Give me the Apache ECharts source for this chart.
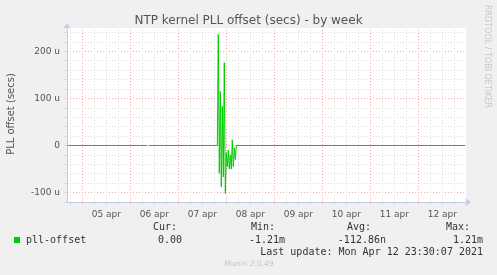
<!DOCTYPE html>
<html><head><meta charset="utf-8">
<script src="https://cdn.jsdelivr.net/npm/echarts@6/dist/echarts.min.js"></script>
<style>html,body{margin:0;padding:0;background:#f0f0f0;}#c{width:497px;height:275px;}</style>
</head><body><div id="c"></div>
<script>
// Hours since 05 apr 00:00 (30-minute samples), values in microseconds
const hours = [-7.5, 32.5, 33, 33.5, 67.5, 68, 68.5, 69, 69.5, 70, 70.5, 71, 71.5, 72, 72.5, 73, 73.5, 74, 74.5, 75, 75.5, 76, 76.5, 77, 191.5];
const pllOffset = [0, 0, null, 0, 0, 236, -59, 115, -88, 83, -67, 176, -102, -15, -45, -10, -50, -20, -50, 12, -45, -5, -30, 0, 0];
const dayLabels = ['05 apr', '06 apr', '07 apr', '08 apr', '09 apr', '10 apr', '11 apr', '12 apr'];
const dayNoon = [12, 36, 60, 84, 108, 132, 156, 180];
const vGrid = [-6, 0, 6, 12, 18, 24, 30, 36, 42, 48, 54, 60, 66, 72, 78, 84, 90, 96, 102, 108, 114, 120, 126, 132, 138, 144, 150, 156, 162, 168, 174, 180, 186];
const legendHeads = ['Cur:', 'Min:', 'Avg:', 'Max:'];
const legendValues = ['0.00', '-1.21m', '-112.86n', '1.21m'];

const MINOR = '#dcdcdc', MAJOR = '#f0a8a8', AXIS = '#c4cbe8';
const chart = echarts.init(document.getElementById('c'), null, {renderer: 'canvas'});
const seriesData = hours.map((h, i) => [h, pllOffset[i]]);
const headX = [177, 275, 371, 470];
const valX = [182, 285, 386, 483];
const graphics = [
  {type: 'text', x: 11, y: 114, rotation: Math.PI / 2, style: {text: 'PLL offset (secs)', fill: '#555', font: '10px "DejaVu Sans"', align: 'center', verticalAlign: 'middle'}},
  {type: 'text', x: 487, y: 5, rotation: -Math.PI / 2, style: {text: 'RRDTOOL / TOBI OETIKER', fill: '#c8c8c8', font: '8px "DejaVu Sans"', align: 'left', verticalAlign: 'middle'}},
  {type: 'rect', shape: {x: 14, y: 237, width: 6, height: 6}, style: {fill: '#00cc00'}},
  {type: 'text', x: 26, y: 240, style: {text: 'pll-offset', fill: '#333', font: '10px "DejaVu Sans Mono"', align: 'left', verticalAlign: 'middle'}},
  {type: 'text', x: 483, y: 252, style: {text: 'Last update: Mon Apr 12 23:30:07 2021', fill: '#333', font: '10px "DejaVu Sans Mono"', align: 'right', verticalAlign: 'middle'}},
  {type: 'text', x: 249, y: 264, style: {text: 'Munin 2.0.49', fill: '#c4c4c4', font: '7.5px "DejaVu Sans"', align: 'center', verticalAlign: 'middle'}}
];
legendHeads.forEach((t, i) => graphics.push({type: 'text', x: headX[i], y: 227, style: {text: t, fill: '#333', font: '10px "DejaVu Sans Mono"', align: 'right', verticalAlign: 'middle'}}));
legendValues.forEach((t, i) => graphics.push({type: 'text', x: valX[i], y: 240, style: {text: t, fill: '#333', font: '10px "DejaVu Sans Mono"', align: 'right', verticalAlign: 'middle'}}));

chart.setOption({
  animation: false,
  backgroundColor: '#f0f0f0',
  title: {text: 'NTP kernel PLL offset (secs) - by week', left: 'center', top: 10,
    textStyle: {fontFamily: 'DejaVu Sans', fontSize: 12, fontWeight: 'normal', color: '#555'}},
  grid: {left: 67, top: 28, width: 399, height: 174, show: true, backgroundColor: '#ffffff', borderWidth: 0},
  xAxis: {
    type: 'value', min: -7.65, max: 191.85,
    axisLine: {show: true, onZero: false, lineStyle: {color: AXIS, width: 1}, symbol: ['none', 'arrow'], symbolSize: [6, 6], symbolOffset: [0, 5]},
    axisTick: {show: true, customValues: vGrid, length: 2, lineStyle: {color: '#ccc'}},
    axisLabel: {customValues: dayNoon, formatter: v => dayLabels[dayNoon.indexOf(v)] || '', color: '#555', fontFamily: 'DejaVu Sans', fontSize: 9, margin: 8},
    splitLine: {show: false}
  },
  yAxis: {
    type: 'value', min: -120, max: 249.5, interval: 20,
    axisLine: {show: true, onZero: false, lineStyle: {color: AXIS, width: 1}, symbol: ['none', 'arrow'], symbolSize: [6, 6], symbolOffset: [0, 5]},
    axisTick: {show: true, length: 3, lineStyle: {color: '#ddd'}},
    axisLabel: {formatter: v => v === 0 ? '0' : (v % 100 === 0 ? v + ' u' : ''), color: '#555', fontFamily: 'DejaVu Sans', fontSize: 9, margin: 7, showMaxLabel: false},
    splitLine: {show: true, showMaxLine: false, lineStyle: {color: [MINOR, MAJOR, MINOR, MINOR, MINOR], type: [1, 2], width: 1}}
  },
  graphic: graphics,
  series: [
    {type: 'line', data: [], silent: true, markLine: {silent: true, symbol: 'none', z: 1, label: {show: false}, animation: false,
      data: vGrid.map(h => ({xAxis: h, lineStyle: {color: h % 24 === 0 ? MAJOR : MINOR, type: [1, 2], width: 1}}))}},
    {type: 'line', name: 'pll-offset', data: seriesData, showSymbol: false, connectNulls: false, z: 3,
      lineStyle: {color: '#00cc00', width: 1}, itemStyle: {color: '#00cc00'}}
  ]
});
</script></body></html>
